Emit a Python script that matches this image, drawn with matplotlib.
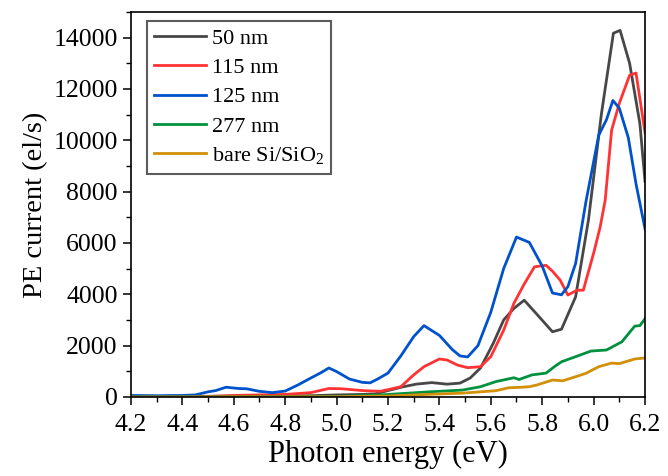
import matplotlib
matplotlib.use("Agg")
import matplotlib.pyplot as plt
from matplotlib.ticker import MultipleLocator

plt.rcParams['font.family'] = ['Liberation Serif', 'DejaVu Serif']
plt.rcParams['mathtext.fontset'] = 'custom'
plt.rcParams['mathtext.rm'] = 'Liberation Serif'

labels = ["50 nm", "115 nm", "125 nm", "277 nm", "bare Si/SiO$_2$"]
colors = ["#474747", "#FF3333", "#0052CC", "#00913F", "#D18F0A"]

x_50 = [4.20, 4.60, 4.90, 5.00, 5.10, 5.15, 5.20, 5.26, 5.31, 5.37, 5.43, 5.48, 5.52, 5.56,
        5.61, 5.65, 5.69, 5.73, 5.775, 5.84, 5.875, 5.93, 5.96, 5.98, 6.03, 6.077, 6.103,
        6.14, 6.18, 6.20]
y_50 = [20, 30, 50, 80, 100, 120, 250, 400, 500, 560, 500, 540, 740, 1130,
        2100, 3000, 3450, 3770, 3270, 2540, 2640, 3900, 5700, 6900, 11000, 14170, 14280,
        13000, 10650, 8400]

x_115 = [4.20, 4.50, 4.60, 4.80, 4.90, 4.97, 5.02, 5.10, 5.17, 5.25, 5.30, 5.34, 5.40, 5.43,
         5.47, 5.51, 5.56, 5.60, 5.65, 5.69, 5.73, 5.77, 5.815, 5.84, 5.87, 5.90, 5.935,
         5.96, 6.00, 6.025, 6.045, 6.07, 6.10, 6.14, 6.165, 6.20]
y_115 = [10, 20, 60, 100, 170, 330, 320, 250, 220, 400, 860, 1180, 1480, 1440,
         1245, 1140, 1180, 1570, 2600, 3650, 4400, 5070, 5130, 4900, 4550, 3970, 4160,
         4160, 5600, 6600, 7660, 10390, 11440, 12530, 12620, 10300]

x_125 = [4.20, 4.30, 4.40, 4.45, 4.50, 4.53, 4.57, 4.62, 4.65, 4.70, 4.75, 4.80, 4.85, 4.90,
         4.94, 4.97, 5.00, 5.05, 5.10, 5.13, 5.16, 5.20, 5.25, 5.30, 5.34, 5.40, 5.45, 5.48,
         5.51, 5.55, 5.60, 5.65, 5.70, 5.75, 5.80, 5.84, 5.875, 5.90, 5.93, 5.97, 6.02,
         6.05, 6.075, 6.10, 6.135, 6.165, 6.20]
y_125 = [60, 50, 60, 80, 200, 250, 380, 330, 320, 220, 170, 230, 470, 740,
         950, 1130, 990, 700, 570, 550, 700, 930, 1600, 2350, 2780, 2400, 1850, 1600,
         1560, 2000, 3300, 5000, 6230, 6020, 5100, 4050, 3980, 4300, 5200, 7600, 10200,
         10800, 11550, 11250, 10100, 8300, 6550]

x_277 = [4.20, 5.00, 5.17, 5.36, 5.49, 5.56, 5.62, 5.69, 5.71, 5.76, 5.815, 5.85, 5.876,
         5.93, 5.99, 6.05, 6.11, 6.16, 6.18, 6.20]
y_277 = [0, 20, 80, 200, 270, 400, 600, 750, 680, 860, 930, 1200, 1375,
         1570, 1790, 1830, 2150, 2760, 2780, 3050]

x_bare = [4.20, 5.00, 5.20, 5.35, 5.49, 5.62, 5.67, 5.71, 5.75, 5.78, 5.84, 5.88, 5.93,
          5.97, 6.02, 6.07, 6.10, 6.16, 6.20]
y_bare = [0, 10, 40, 100, 150, 245, 360, 375, 400, 470, 660, 630, 790,
          920, 1180, 1320, 1300, 1480, 1520]

series_x = [x_50, x_115, x_125, x_277, x_bare]
series_y = [y_50, y_115, y_125, y_277, y_bare]

fig = plt.figure(figsize=(6.68, 4.76), dpi=100)
ax = fig.add_axes([0.196, 0.166, 0.7696, 0.809])

for xs, ys, c, lab in zip(series_x, series_y, colors, labels):
    ax.plot(xs, ys, color=c, lw=2.0, label=lab)

ax.set_xlim(4.2, 6.2)
ax.set_ylim(0, 15000)
ax.xaxis.set_minor_locator(MultipleLocator(0.1))
ax.yaxis.set_minor_locator(MultipleLocator(1000))
ax.set_yticks([0, 2000, 4000, 6000, 8000, 10000, 12000, 14000])
ax.set_xticks([4.2 + 0.2 * i for i in range(11)])
ax.set_xticklabels(["%.1f" % (4.2 + 0.2 * i) for i in range(11)])
ax.tick_params(which='major', direction='out', length=5.5, width=1.1, labelsize=18.5)
ax.tick_params(axis='x', which='major', pad=6.5)
ax.tick_params(axis='y', which='major', pad=4)
ax.tick_params(which='minor', direction='out', length=3.5, width=1.0)
for s in ax.spines.values():
    s.set_linewidth(1.2)

ax.set_xlabel("Photon energy (eV)", fontsize=22, labelpad=3)
ax.set_ylabel("PE current (el/s)", fontsize=20.5, labelpad=4)

leg = ax.legend(loc='upper left', bbox_to_anchor=(0.031, 0.977), borderaxespad=0,
                fontsize=16, frameon=True, fancybox=False,
                edgecolor='#333333', handlelength=2.3, handletextpad=0.27,
                labelspacing=0.39, borderpad=0.34)
leg.get_frame().set_linewidth(1.5)

fig.savefig("out.png", dpi=100)
